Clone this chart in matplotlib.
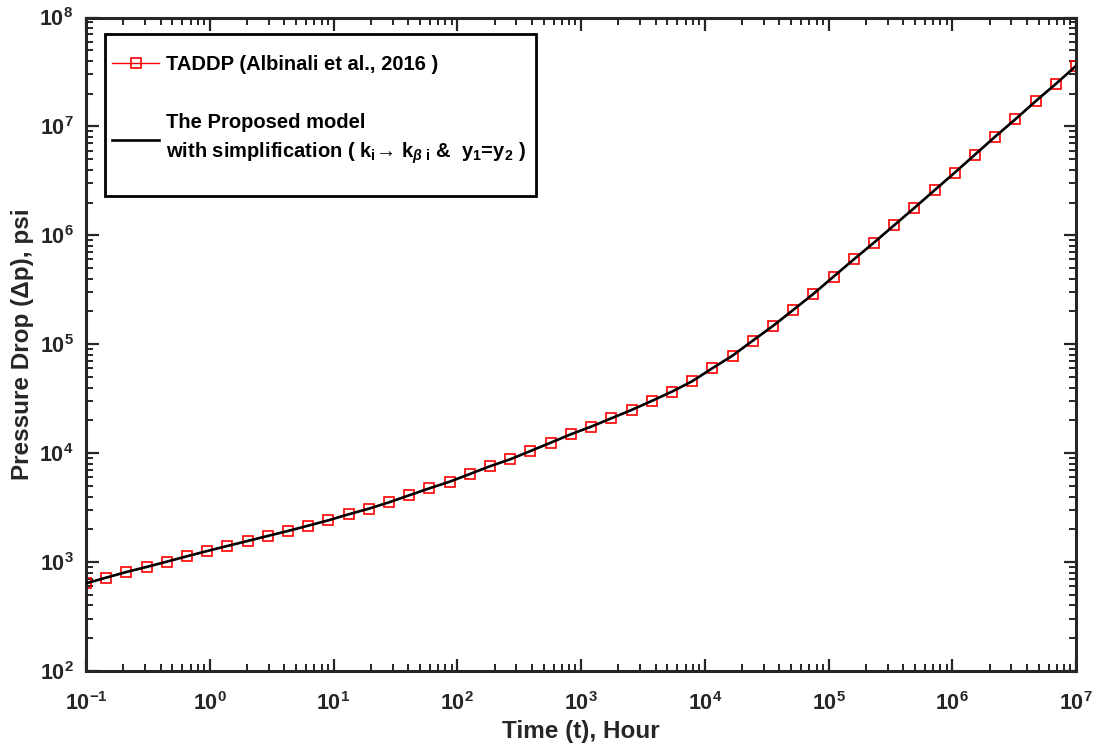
#!/usr/bin/env python3
"""Pressure drop vs time, log-log comparison of TADDP and the proposed model."""
import matplotlib
matplotlib.use('Agg')
import matplotlib.pyplot as plt
import matplotlib.ticker as mticker
from matplotlib.patches import Rectangle
import numpy as np

# ---------------------------------------------------------------- data
# time points: 50 log-spaced samples between 1e-1 and 1e7 hours
TIME_EXP = [-1 + 8 * k / 49 for k in range(50)]
TIME_H = [10 ** e for e in TIME_EXP]

TADDP_PSI = [
    638, 720, 811, 902, 1009, 1131, 1264, 1406, 1563, 1738,
    1932, 2160, 2419, 2747, 3092, 3539, 4105, 4760, 5470, 6440,
    7590, 8790, 10470, 12480, 14920, 17510, 20900, 24930, 30150, 36720,
    45710, 60200, 78600, 107900, 147200, 206400, 290000, 417700, 601000, 857000,
    1.239e6, 1.786e6, 2.597e6, 3.765e6, 5.51e6, 8.06e6, 1.164e7, 1.703e7, 2.455e7, 3.594e7,
]
MODEL_PSI = list(TADDP_PSI)

XTICKS = [1e-1, 1e0, 1e1, 1e2, 1e3, 1e4, 1e5, 1e6, 1e7]
XTICK_LABELS = [r'$10^{-1}$', r'$10^{0}$', r'$10^{1}$', r'$10^{2}$', r'$10^{3}$',
                r'$10^{4}$', r'$10^{5}$', r'$10^{6}$', r'$10^{7}$']
YTICKS = [1e2, 1e3, 1e4, 1e5, 1e6, 1e7, 1e8]
YTICK_LABELS = [r'$10^{2}$', r'$10^{3}$', r'$10^{4}$', r'$10^{5}$',
                r'$10^{6}$', r'$10^{7}$', r'$10^{8}$']

LABEL_TADDP = 'TADDP (Albinali et al., 2016 )'
LABEL_MODEL = ('The Proposed model\n'
               r'with simplification ( k$_{i}$→ k$_{\mathit{\beta}\ i}$ &  y$_{1}$=y$_{2}$ )')

AX_COLOR = '#262626'
W, H = 1099, 751

plt.rcParams.update({
    'font.family': ['Liberation Sans', 'DejaVu Sans'],
    'font.weight': 'bold',
    'mathtext.fontset': 'custom',
    'mathtext.rm': 'Liberation Sans:bold',
    'mathtext.bf': 'Liberation Sans:bold',
    'mathtext.it': 'Liberation Sans:bold:italic',
    'mathtext.default': 'rm',
})

fig = plt.figure(figsize=(W / 100, H / 100), dpi=100)
ax = fig.add_axes([86 / W, 1 - 671 / H, 990 / W, 653.5 / H])

ax.plot(TIME_H, TADDP_PSI, color='red', linewidth=1.0, marker='s', markersize=7.2,
        markerfacecolor='none', markeredgecolor='red', markeredgewidth=1.2,
        label=LABEL_TADDP, zorder=2)
ax.plot(TIME_H, MODEL_PSI, color='black', linewidth=1.9, label=LABEL_MODEL, zorder=3)

ax.set_xscale('log')
ax.set_yscale('log')
ax.set_xlim(1e-1, 1e7)
ax.set_ylim(1e2, 1e8)

ax.set_xticks(XTICKS)
ax.set_xticklabels(XTICK_LABELS)
ax.set_yticks(YTICKS)
ax.set_yticklabels(YTICK_LABELS)
ax.xaxis.set_minor_locator(mticker.LogLocator(base=10, subs=np.arange(2, 10), numticks=20))
ax.yaxis.set_minor_locator(mticker.LogLocator(base=10, subs=np.arange(2, 10), numticks=20))
ax.xaxis.set_minor_formatter(mticker.NullFormatter())
ax.yaxis.set_minor_formatter(mticker.NullFormatter())

ax.tick_params(which='both', direction='in', top=True, right=True, colors=AX_COLOR,
               labelsize=15.5)
ax.tick_params(which='major', length=9, width=1.6)
ax.tick_params(which='minor', length=5, width=1.4)
ax.tick_params(axis='x', pad=15)
ax.tick_params(axis='y', pad=9)
for sp in ax.spines.values():
    sp.set_linewidth(2.2)
    sp.set_color(AX_COLOR)

ax.set_xlabel('Time (t), Hour', fontsize=17.5, fontweight='bold', color=AX_COLOR, labelpad=4)
ax.set_ylabel('Pressure Drop (Δp), psi', fontsize=17.5, fontweight='bold', color=AX_COLOR, labelpad=4)

# legend entries without frame, frame drawn as a box like the original
leg = ax.legend(loc='upper left', bbox_to_anchor=(112 / W, 1 - 55 / H),
                bbox_transform=fig.transFigure, fontsize=14.5, frameon=False,
                handlelength=2.35, handletextpad=0.35, labelspacing=1.95,
                borderpad=0, borderaxespad=0)
leg.get_texts()[1].set_linespacing(1.45)
fig.patches.append(Rectangle((105 / W, 1 - 196 / H), 431 / W, 162 / H,
                             transform=fig.transFigure, fill=False,
                             edgecolor='black', linewidth=2.0, zorder=5))

fig.savefig('out.png', dpi=100)
